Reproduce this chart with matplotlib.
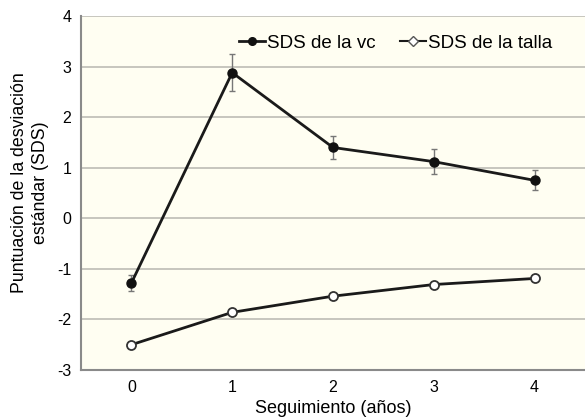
import matplotlib
matplotlib.use("Agg")
import matplotlib.pyplot as plt
from matplotlib.lines import Line2D

plt.rcParams["font.family"] = ["Liberation Sans", "DejaVu Sans"]
plt.rcParams["axes.unicode_minus"] = False

years = [0, 1, 2, 3, 4]
sds_vc = [-1.28, 2.88, 1.40, 1.12, 0.75]
sds_vc_err = [0.15, 0.36, 0.22, 0.25, 0.20]
sds_talla = [-2.50, -1.86, -1.54, -1.31, -1.19]
sds_talla_err = [0.05, 0.05, 0.05, 0.05, 0.05]
yticks = [-3, -2, -1, 0, 1, 2, 3, 4]

fig = plt.figure(figsize=(5.85, 4.18), dpi=100)
ax = fig.add_axes([81/585, 1-370/418, (585-81)/585, (370-16)/418])
ax.set_facecolor("#fffef2")
for y in yticks:
    ax.axhline(y, color="#bdbdb5", lw=1.2, zorder=0)

ax.errorbar(years, sds_vc, yerr=sds_vc_err, color="#1a1a1a", lw=2, marker="o",
            ms=6.5, mfc="#111111", mec="#111111", ecolor="#777777", elinewidth=1,
            capsize=2, zorder=3)
ax.errorbar(years, sds_talla, yerr=sds_talla_err, color="#1a1a1a", lw=2, marker="o",
            ms=6.5, mfc="white", mec="#333333", mew=1.3, ecolor="#cccccc", elinewidth=0.8,
            capsize=2, zorder=3)

handles = [
    Line2D([], [], color="#1a1a1a", lw=2, marker="o", ms=5.5, mfc="#111111", mec="#111111"),
    Line2D([], [], color="#1a1a1a", lw=1.5, marker="D", ms=5, mfc="white", mec="#555555"),
]
labels = ["SDS de la vc", "SDS de la talla"]

ax.set_xlim(-0.5, 4.5)
ax.set_ylim(-3, 4)
ax.set_xticks(years)
ax.set_yticks(yticks)
ax.tick_params(length=0, labelsize=11.5, pad=7)
for s in ["top", "right"]:
    ax.spines[s].set_visible(False)
for s in ["left", "bottom"]:
    ax.spines[s].set_color("#8a8a8a")
    ax.spines[s].set_linewidth(1.5)
ax.set_xlabel("Seguimiento (años)", fontsize=13, labelpad=4)
ax.set_ylabel("Puntuación de la desviación\nestándar (SDS)", fontsize=12.8, labelpad=6,
              y=0.53, linespacing=1.25)
ax.legend(handles, labels, loc="upper center", bbox_to_anchor=(0.624, 0.995), ncol=2,
          frameon=False, fontsize=13.5, handlelength=1.4, handletextpad=0.1,
          columnspacing=1.3)
fig.savefig("out.png", dpi=100)
